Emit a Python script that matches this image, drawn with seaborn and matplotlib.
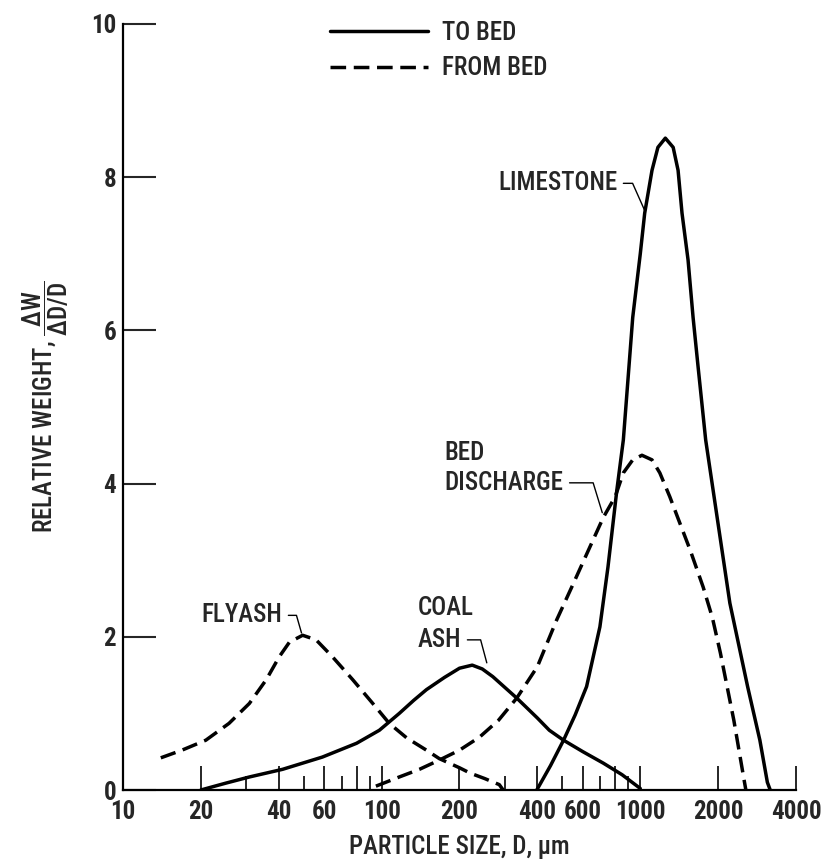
import matplotlib
matplotlib.use("Agg")
import matplotlib.pyplot as plt
import seaborn as sns
import pandas as pd
from matplotlib import font_manager
from matplotlib.ticker import FixedLocator, FixedFormatter

# --- data (particle size in um, relative weight) ---
flyash_x = [14.0, 16.9, 20.9, 25.7, 30.8, 35.8, 40.2, 44, 49.5, 55.8, 64.5, 77.3, 92.4,
            107, 125, 149, 167, 200, 220, 250, 285, 295]
flyash_y = [0.42, 0.52, 0.65, 0.87, 1.13, 1.44, 1.74, 1.93, 2.02, 1.96, 1.74, 1.44, 1.13,
            0.87, 0.68, 0.52, 0.41, 0.29, 0.22, 0.15, 0.07, 0.0]

coal_ash_x = [20, 25, 30.8, 41.4, 59, 80, 98, 117, 133, 149, 175, 200, 224, 245, 269,
              333, 400, 445, 505, 600, 720, 850, 1000]
coal_ash_y = [0.0, 0.09, 0.17, 0.27, 0.43, 0.61, 0.78, 1.0, 1.17, 1.31, 1.47, 1.59, 1.63,
              1.58, 1.48, 1.20, 0.94, 0.78, 0.65, 0.50, 0.35, 0.20, 0.02]

bed_x = [95, 117, 140, 167, 200, 239, 283, 333, 400, 475, 540, 640, 720, 800, 860, 935,
         1015, 1110, 1190, 1300, 1420, 1560, 1750, 1900, 2040, 2300, 2520, 2560]
bed_y = [0.05, 0.17, 0.27, 0.39, 0.52, 0.69, 0.91, 1.20, 1.61, 2.22, 2.63, 3.18, 3.56,
         3.83, 4.14, 4.31, 4.37, 4.31, 4.14, 3.83, 3.49, 3.13, 2.65, 2.25, 1.79, 0.91,
         0.13, 0.0]

lime_x = [398, 450, 505, 560, 620, 698, 750, 812, 860, 935, 1000, 1040, 1110, 1170, 1250,
          1340, 1400, 1450, 1530, 1600, 1670, 1790, 1990, 2220, 2600, 2900, 3100, 3180]
lime_y = [0.0, 0.32, 0.65, 0.98, 1.35, 2.13, 2.91, 3.92, 4.57, 6.17, 7.0, 7.53, 8.09,
          8.39, 8.51, 8.39, 8.09, 7.53, 6.92, 6.17, 5.55, 4.57, 3.52, 2.44, 1.35, 0.65,
          0.10, 0.0]

major_ticks = [10, 20, 40, 60, 80, 100, 200, 400, 600, 800, 1000, 2000, 4000]
major_labels = ["10", "20", "40", "60", "", "100", "200", "400", "600", "", "1000", "2000", "4000"]
minor_ticks = [30, 50, 70, 90, 300, 500, 700, 900]
y_ticks = [0, 2, 4, 6, 8, 10]

sns.set_style("white")

# prefer a narrow sans face, like the original lettering
names = {f.name for f in font_manager.fontManager.ttflist}
fam = None
for cand in ["Roboto Condensed", "Liberation Sans Narrow", "Open Sans Condensed",
             "Noto Sans Condensed", "DejaVu Sans Condensed"]:
    if cand in names:
        fam = cand
        break
narrow = fam is not None
if fam is None:
    fam = "Liberation Sans"
plt.rcParams["font.family"] = [fam, "DejaVu Sans"]
plt.rcParams["font.weight"] = "medium"
plt.rcParams["axes.labelweight"] = "medium"
plt.rcParams["mathtext.fontset"] = "custom"
plt.rcParams["mathtext.rm"] = fam + ":medium"
plt.rcParams["mathtext.it"] = fam + ":medium"
plt.rcParams["lines.solid_capstyle"] = "round"

fs = 18 if narrow else 15.5

fig = plt.figure(figsize=(8.25, 8.65), dpi=100)
ax = fig.add_axes([123 / 825, 1 - 790 / 865, (796 - 123) / 825, (790 - 24) / 865])

lw = 2.5
dash = (4.5, 2.2)

curves = [
    (flyash_x, flyash_y, True),
    (coal_ash_x, coal_ash_y, False),
    (bed_x, bed_y, True),
    (lime_x, lime_y, False),
]
for xs, ys, dashed in curves:
    df = pd.DataFrame({"size": xs, "weight": ys})
    sns.lineplot(data=df, x="size", y="weight", ax=ax, color="black", lw=lw,
                 estimator=None, sort=False)
    ax.lines[-1].set_solid_joinstyle("round")
    if dashed:
        ax.lines[-1].set_dashes(dash)
        ax.lines[-1].set_dash_capstyle("butt")

ax.set_xscale("log")
ax.set_xlim(10, 4000)
ax.set_ylim(0, 10)

ax.xaxis.set_major_locator(FixedLocator(major_ticks))
ax.xaxis.set_major_formatter(FixedFormatter(major_labels))
ax.xaxis.set_minor_locator(FixedLocator(minor_ticks))
ax.xaxis.set_minor_formatter(FixedFormatter([""] * len(minor_ticks)))
ax.set_yticks(y_ticks)
ax.set_yticklabels([str(v) for v in y_ticks])

ax.tick_params(axis="x", which="major", direction="in", length=17, width=1.4,
               labelsize=fs, pad=7, bottom=True, top=False)
ax.tick_params(axis="x", which="minor", direction="in", length=10, width=1.4,
               bottom=True, top=False)
ax.tick_params(axis="y", which="major", direction="in", length=24, width=1.5,
               labelsize=fs, pad=5, left=True, right=False)
for lab in ax.get_xticklabels() + ax.get_yticklabels():
    lab.set_fontweight("bold")

for side in ["top", "right"]:
    ax.spines[side].set_visible(False)
for side in ["left", "bottom"]:
    ax.spines[side].set_linewidth(1.6)
    ax.spines[side].set_color("black")

ax.set_xlabel("PARTICLE SIZE, D, \u03bcm", fontsize=fs, labelpad=8)
ax.set_ylabel(r"RELATIVE WEIGHT, $\dfrac{\mathrm{\Delta W}}{\mathrm{\Delta D/D}}$",
              fontsize=fs, labelpad=14)

# legend
solid = plt.Line2D([], [], color="black", lw=lw)
dashed_h = plt.Line2D([], [], color="black", lw=lw, dashes=dash)
ax.legend([solid, dashed_h], ["TO BED", "FROM BED"], loc="upper left",
          bbox_to_anchor=(330 / 825, 1 - 21 / 865), bbox_transform=fig.transFigure,
          frameon=False, fontsize=fs, handlelength=4.4 if not narrow else 3.9,
          handletextpad=0.6, labelspacing=0.45, borderpad=0, borderaxespad=0)

# curve labels with hook leaders
lead = dict(arrowstyle="-", lw=1.0, color="black", shrinkA=2, shrinkB=0)
ax.annotate("LIMESTONE", xy=(1045, 7.55), xytext=(815, 7.92), ha="right", va="center",
            fontsize=fs, arrowprops=dict(lead, connectionstyle="angle,angleA=0,angleB=114"))
ax.annotate("FLYASH", xy=(49, 2.05), xytext=(41.3, 2.28), ha="right", va="center",
            fontsize=fs, arrowprops=dict(lead, connectionstyle="angle,angleA=0,angleB=106"))
ax.text(138, 2.38, "COAL", ha="left", va="center", fontsize=fs)
ax.annotate("ASH", xy=(255, 1.66), xytext=(138, 1.96), ha="left", va="center",
            fontsize=fs, arrowprops=dict(lead, connectionstyle="angle,angleA=0,angleB=105"))
ax.text(175, 4.40, "BED", ha="left", va="center", fontsize=fs)
ax.annotate("DISCHARGE", xy=(713, 3.62), xytext=(175, 4.01), ha="left", va="center",
            fontsize=fs, arrowprops=dict(lead, connectionstyle="angle,angleA=0,angleB=107"))

fig.savefig("out.png", dpi=100)
